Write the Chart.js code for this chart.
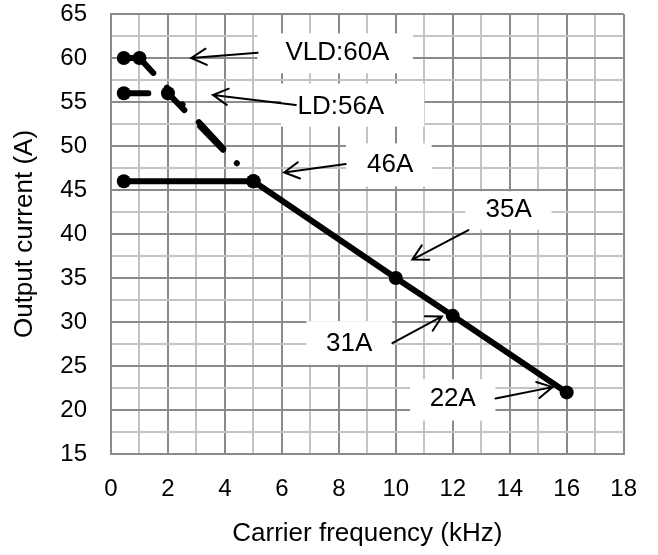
<!DOCTYPE html>
<html>
<head>
<meta charset="utf-8">
<script src="https://cdn.jsdelivr.net/npm/chart.js@4.4.0/dist/chart.umd.min.js"></script>
<style>
  html, body { margin: 0; padding: 0; background: #fff; }
  #wrap { width: 658px; height: 555px; }
</style>
</head>
<body>
<div id="wrap"><canvas id="chart" width="658" height="555"></canvas></div>
<script>
// carrier frequency (kHz) vs rated output current (A)
const vldFreq = [0.45, 1, 5];
const vldCurrent = [60, 60, 46];
const ldFreq = [0.45, 2, 5];
const ldCurrent = [56, 56, 46];
const ndFreq = [0.45, 5, 10, 12, 16];
const ndCurrent = [46, 46, 35, 30.7, 22];

const xTickLabels = [0, 2, 4, 6, 8, 10, 12, 14, 16, 18];
const yTickLabels = [15, 20, 25, 30, 35, 40, 45, 50, 55, 60, 65];

// callouts, all in axis units
const calloutText = ['VLD:60A', 'LD:56A', '46A', '35A', '31A', '22A'];
const calloutPos = [[7.95, 60.6], [8.07, 54.5], [9.8, 47.9], [13.96, 42.7], [8.36, 27.55], [12.0, 21.3]];
const calloutBox = [[5.14, 10.6, 58.26, 62.8], [5.97, 11.0, 52.2, 57.1], [8.25, 11.26, 45.4, 50.3],
                    [12.44, 15.47, 40.5, 44.85], [6.86, 9.88, 25.15, 30.1], [10.5, 13.5, 18.8, 23.5]];
const calloutArrow = [[5.15, 60.6, 2.82, 60.0], [6.49, 54.66, 3.58, 55.8], [8.24, 47.95, 6.08, 47.0],
                      [12.55, 40.45, 10.58, 37.1], [9.88, 27.6, 11.62, 30.63], [13.5, 21.3, 15.5, 22.6]];

const FONT = "'Liberation Sans', Arial, sans-serif";
const MAJOR = '#8a8a8a';
const MINOR = '#c4c4c4';

function toPoints(xs, ys) {
    return xs.map((x, i) => ({ x: x, y: ys[i] }));
}

function lineSet(label, xs, ys, dash) {
    return {
        label: label,
        data: toPoints(xs, ys),
        showLine: true,
        borderColor: '#000',
        backgroundColor: '#000',
        borderWidth: 6,
        borderDash: dash,
        borderCapStyle: 'round',
        borderJoinStyle: 'round',
        pointRadius: 7,
        pointBorderWidth: 0,
        pointBackgroundColor: '#000'
    };
}

const calloutPlugin = {
    id: 'callouts',
    beforeDatasetsDraw(chart) {
        const { ctx, scales: { x, y } } = chart;
        ctx.save();
        ctx.fillStyle = '#fff';
        calloutBox.forEach(b => {
            const x0 = x.getPixelForValue(b[0]);
            const x1 = x.getPixelForValue(b[1]);
            const y0 = y.getPixelForValue(b[3]);
            const y1 = y.getPixelForValue(b[2]);
            ctx.fillRect(x0, y0, x1 - x0, y1 - y0);
        });
        ctx.restore();
    },
    afterDatasetsDraw(chart) {
        const { ctx, scales: { x, y } } = chart;
        ctx.save();
        ctx.strokeStyle = '#000';
        ctx.lineWidth = 2;
        ctx.lineCap = 'round';
        calloutArrow.forEach(a => {
            const tx = x.getPixelForValue(a[0]), ty = y.getPixelForValue(a[1]);
            const hx = x.getPixelForValue(a[2]), hy = y.getPixelForValue(a[3]);
            const ang = Math.atan2(ty - hy, tx - hx);
            const len = 17, spread = 0.5;
            ctx.beginPath();
            ctx.moveTo(tx, ty);
            ctx.lineTo(hx, hy);
            ctx.moveTo(hx + len * Math.cos(ang - spread), hy + len * Math.sin(ang - spread));
            ctx.lineTo(hx, hy);
            ctx.lineTo(hx + len * Math.cos(ang + spread), hy + len * Math.sin(ang + spread));
            ctx.stroke();
        });
        ctx.fillStyle = '#000';
        ctx.font = '26px ' + FONT;
        ctx.textAlign = 'center';
        ctx.textBaseline = 'middle';
        calloutText.forEach((t, i) => {
            ctx.fillText(t, x.getPixelForValue(calloutPos[i][0]), y.getPixelForValue(calloutPos[i][1]));
        });
        ctx.restore();
    }
};

const ctx = document.getElementById('chart');

new Chart(ctx, {
    type: 'scatter',
    data: {
        datasets: [
            lineSet('LD', ldFreq, ldCurrent, [24.5, 21.5, 21.7, 22.8, 32.5, 60]),
            lineSet('VLD', vldFreq, vldCurrent, [36, 20, 0.01, 23, 0.01, 24]),
            lineSet('ND', ndFreq, ndCurrent, [])
        ]
    },
    options: {
        responsive: false,
        animation: false,
        layout: { padding: { left: 0, right: 32, top: 14, bottom: 0 } },
        plugins: {
            legend: { display: false },
            tooltip: { enabled: false }
        },
        scales: {
            x: {
                type: 'linear',
                min: 0,
                max: 18,
                afterFit: s => { s.height = 101; },
                ticks: {
                    stepSize: 1,
                    autoSkip: false,
                    maxRotation: 0,
                    padding: 21,
                    color: '#000',
                    font: { family: FONT, size: 24 },
                    callback: v => xTickLabels.includes(v) ? v : ''
                },
                grid: {
                    drawTicks: false,
                    lineWidth: 2,
                    color: c => (c.tick && c.tick.value % 2 === 0) ? MAJOR : MINOR
                },
                border: { color: MAJOR, width: 2 },
                title: {
                    display: true,
                    text: 'Carrier frequency (kHz)',
                    color: '#000',
                    font: { family: FONT, size: 26 },
                    padding: { top: 0, bottom: 6 }
                }
            },
            y: {
                type: 'linear',
                min: 15,
                max: 65,
                afterFit: s => {
                    s.width = 111;
                    s.paddingTop = 0;
                    s.paddingBottom = 0;
                },
                ticks: {
                    stepSize: 2.5,
                    autoSkip: false,
                    padding: 24,
                    color: '#000',
                    font: { family: FONT, size: 24 },
                    callback: v => yTickLabels.includes(v) ? v : ''
                },
                grid: {
                    drawTicks: false,
                    lineWidth: 2,
                    color: c => (c.tick && c.tick.value % 5 === 0) ? MAJOR : MINOR
                },
                border: { color: MAJOR, width: 2 },
                title: {
                    display: true,
                    text: 'Output current (A)',
                    color: '#000',
                    font: { family: FONT, size: 26 },
                    padding: { top: 9, bottom: 0 }
                }
            }
        }
    },
    plugins: [calloutPlugin]
});
</script>
</body>
</html>
